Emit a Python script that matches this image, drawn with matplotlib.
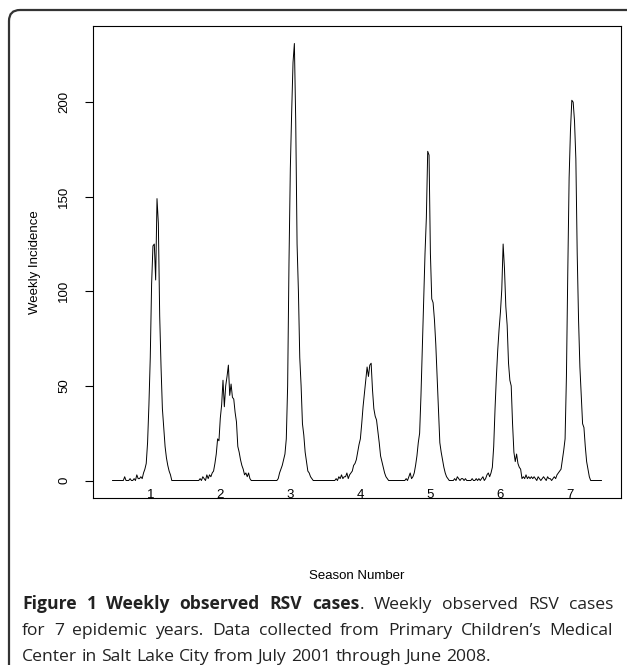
import numpy as np
import matplotlib
matplotlib.use('Agg')
import matplotlib.pyplot as plt
import matplotlib.transforms as mtransforms
from matplotlib.patches import FancyBboxPatch

# Figure size in pixels
W, H = 627, 665
DPI = 100

PLOT_FONT = 'Liberation Sans'
PLOT_SIZE = 9.5
CAPTION_FONT = 'Open Sans'
CAPTION_SIZE = 12.6

# Weekly observed RSV cases, one list per season (52 weeks, July -> June)
season_1 = [0, 0, 0, 0, 0, 0, 0, 0, 0, 2, 0, 0, 0, 1, 0, 0, 1, 0, 3, 1,
            1, 2, 1, 4, 6, 9, 20, 40, 65, 104, 124, 125, 106, 149, 136, 87, 60, 38, 28, 18,
            12, 8, 5, 3, 0, 0, 0, 0, 0, 0, 0, 0]
season_2 = [0, 0, 0, 0, 0, 0, 0, 0, 0, 0, 0, 0, 0, 1, 0, 2, 1, 0, 3, 1,
            3, 2, 4, 5, 9, 14, 22, 21, 33, 40, 53, 39, 50, 55, 61, 45, 51, 44, 43, 36,
            31, 18, 15, 11, 8, 6, 3, 4, 2, 4, 1, 0]
season_3 = [0, 0, 0, 0, 0, 0, 0, 0, 0, 0, 0, 0, 0, 0, 0, 0, 0, 0, 0, 1,
            4, 6, 8, 11, 14, 22, 50, 115, 165, 195, 221, 231, 190, 125, 100, 65, 50, 30, 24, 15,
            10, 5, 4, 2, 1, 0, 0, 0, 0, 0, 0, 0]
season_4 = [0, 0, 0, 0, 0, 0, 0, 0, 0, 0, 1, 0, 2, 1, 3, 1, 2, 2, 4, 1,
            3, 4, 5, 8, 9, 11, 15, 19, 22, 30, 39, 46, 53, 60, 55, 61, 62, 48, 38, 34,
            32, 26, 20, 13, 10, 7, 4, 2, 1, 0, 0, 0]
season_5 = [0, 0, 0, 0, 0, 0, 0, 0, 0, 0, 1, 0, 2, 4, 1, 2, 4, 8, 13, 20,
            25, 45, 70, 95, 120, 139, 174, 172, 120, 96, 94, 85, 72, 55, 38, 20, 15, 11, 7, 4,
            2, 1, 0, 0, 0, 0, 1, 0, 2, 1, 0, 1]
season_6 = [1, 0, 1, 0, 0, 0, 0, 1, 0, 0, 1, 0, 1, 0, 1, 2, 0, 1, 3, 4,
            2, 4, 7, 18, 38, 55, 69, 80, 89, 101, 125, 112, 92, 82, 62, 53, 50, 30, 15, 10,
            14, 9, 7, 6, 1, 2, 1, 3, 1, 2, 1, 2]
season_7 = [1, 2, 1, 0, 2, 1, 0, 1, 2, 1, 0, 2, 1, 1, 0, 1, 2, 1, 3, 4,
            5, 6, 11, 16, 22, 55, 110, 160, 185, 201, 200, 190, 170, 120, 85, 60, 45, 30, 28, 18,
            10, 6, 2, 0, 0, 0, 0, 0, 0, 0, 0, 0]

SEASONS = [season_1, season_2, season_3, season_4, season_5, season_6, season_7]
SEASON_LABELS = ['1', '2', '3', '4', '5', '6', '7']
SEASON_LABEL_WEEK = 29
Y_TICKS = [0, 50, 100, 150, 200]

CAPTION = [
    [[('Figure', 'bold')], [('1', 'bold')], [('Weekly', 'bold')], [('observed', 'bold')],
     [('RSV', 'bold')], [('cases', 'bold'), ('.', 'normal')], [('Weekly', 'normal')],
     [('observed', 'normal')], [('RSV', 'normal')], [('cases', 'normal')]],
    [[(w, 'normal')] for w in 'for 7 epidemic years. Data collected from Primary Children\u2019s Medical'.split()],
    [[(w, 'normal')] for w in 'Center in Salt Lake City from July 2001 through June 2008.'.split()],
]

weekly = np.concatenate(SEASONS)
weeks = np.arange(1, len(weekly) + 1)
season_len = len(season_1)

fig = plt.figure(figsize=(W / DPI, H / DPI), dpi=DPI)
fig.patch.set_facecolor('white')

# rounded frame around the figure (cut by the right and bottom edges)
frame = FancyBboxPatch((9, -60), 700, H - 10 + 60, boxstyle='round,pad=0,rounding_size=11',
                       transform=mtransforms.IdentityTransform(), fill=False,
                       edgecolor='#333333', lw=1.6)
fig.patches.append(frame)

ax = fig.add_axes([93 / W, 1 - 498 / H, 528 / W, 472 / H])
ax.plot(weeks, weekly, color='black', lw=0.7)

# R style 4% padding
pad_x = 0.04 * (weeks[-1] - weeks[0])
pad_y = 0.04 * weekly.max()
ax.set_xlim(weeks[0] - pad_x, weeks[-1] + pad_x)
ax.set_ylim(-pad_y, weekly.max() + pad_y)

for s in ax.spines.values():
    s.set_linewidth(0.8)
    s.set_color('black')

ax.set_xticks([])
ax.set_yticks(Y_TICKS)
ax.set_yticklabels([str(v) for v in Y_TICKS], family=PLOT_FONT, fontsize=PLOT_SIZE)
ax.tick_params(axis='y', length=5.5, width=0.8, direction='out', pad=11, labelrotation=90)
for lab in ax.get_yticklabels():
    lab.set_va('center')

# season numbers sit just above the bottom axis line
xform = ax.get_xaxis_transform()
for i, lab in enumerate(SEASON_LABELS):
    ax.text(i * season_len + SEASON_LABEL_WEEK, 0, lab, transform=xform, ha='center',
            va='baseline', family=PLOT_FONT, fontsize=PLOT_SIZE)

ax.set_ylabel('Weekly Incidence', family=PLOT_FONT, fontsize=PLOT_SIZE)
ax.yaxis.set_label_coords(-0.098, 0.5)
ax.set_xlabel('Season Number', family=PLOT_FONT, fontsize=PLOT_SIZE)
ax.xaxis.set_label_coords(0.5, -0.152)


def draw_caption_line(line, y_top, x0, x1, size, justify=True):
    renderer = fig.canvas.get_renderer()
    y = H - y_top
    words = []
    for word in line:
        pieces = []
        for txt, weight in word:
            t = fig.text(0, y, txt, transform=mtransforms.IdentityTransform(), fontsize=size,
                         fontweight=weight, family=CAPTION_FONT, va='baseline', color='#222222')
            pieces.append((t, t.get_window_extent(renderer).width))
        words.append(pieces)
    word_w = [sum(w for _, w in p) for p in words]
    space = fig.text(0, 0, 'a a', fontsize=size, family=CAPTION_FONT,
                     transform=mtransforms.IdentityTransform())
    a_only = fig.text(0, 0, 'aa', fontsize=size, family=CAPTION_FONT,
                      transform=mtransforms.IdentityTransform())
    gap = space.get_window_extent(renderer).width - a_only.get_window_extent(renderer).width
    space.remove()
    a_only.remove()
    if justify and len(words) > 1:
        gap = (x1 - x0 - sum(word_w)) / (len(words) - 1)
    x = x0
    for pieces, ww in zip(words, word_w):
        for t, w in pieces:
            t.set_x(x)
            x += w
        x += gap


draw_caption_line(CAPTION[0], 609, 22, 613, CAPTION_SIZE)
draw_caption_line(CAPTION[1], 635, 22, 613, CAPTION_SIZE)
draw_caption_line(CAPTION[2], 661, 22, 613, CAPTION_SIZE, justify=False)

fig.savefig('out.png', dpi=DPI)
